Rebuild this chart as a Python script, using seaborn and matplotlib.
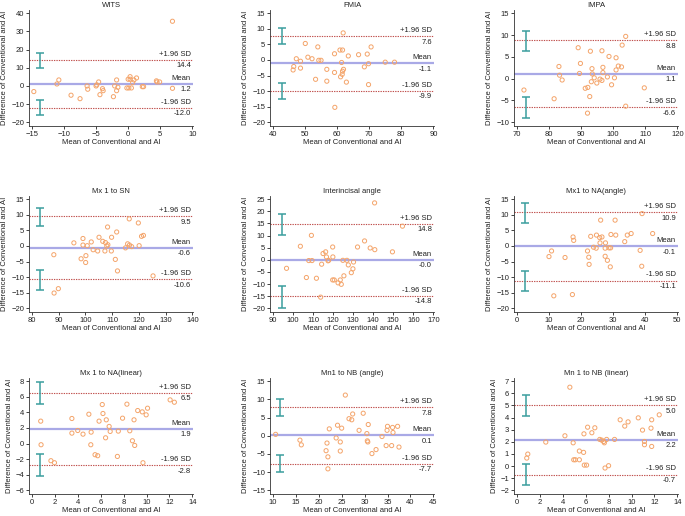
import numpy as np
import pandas as pd
import matplotlib
matplotlib.use("Agg")
import matplotlib.pyplot as plt
import seaborn as sns

# Bland-Altman data: mean of the two methods (x) and difference (y)
wits_x = [-14.7, -11.1, -10.8, -8.9, -7.5, -6.4, -6.3, -5.0, -4.9, -4.6, -4.4, -4.0, -3.9, -2.3, -2.1, -1.8, -1.8,
          -1.6, -0.2, 0.1, 0.0, 0.3, 0.3, 0.5, 0.7, 0.9, 1.3, 2.2, 2.4, 4.4, 4.5, 4.9, 6.9, 6.9]
wits_y = [-3.1, 1.1, 3.3, -5.1, -7.0, 0.0, -1.8, 0.0, 0.6, 2.2, -4.8, -1.5, -2.6, -5.9, 0.0, 3.3, -2.6,
          -0.7, -1.1, -1.1, 3.7, 5.1, 3.7, -1.1, 1.8, 3.3, 4.4, -0.4, -0.4, 2.8, 2.2, 2.2, 35.6, -1.3]

fmia_x = [46.3, 46.5, 47.3, 48.6, 48.6, 50.1, 50.9, 52.2, 53.3, 54.0, 54.3, 55.0, 56.8, 56.8, 59.2, 59.2, 59.3, 60.9,
          61.1, 61.4, 61.7, 61.7, 61.6, 61.9, 62.0, 62.9, 63.5, 66.7, 68.5, 69.4, 69.8, 69.8, 70.6, 75.0, 77.9]
fmia_y = [-3.2, -2.1, 0.4, -0.4, -2.6, 5.3, 0.9, 0.4, -6.2, 4.2, -0.1, -0.1, -3.0, -6.8, 2.0, -4.0, -15.2, 3.2,
          -5.4, -0.8, 3.2, -3.6, -4.6, 8.7, -3.0, -7.1, 1.3, 1.7, -2.2, 1.9, -1.2, -7.9, 4.2, -0.7, -0.7]

impa_x = [72.2, 81.6, 83.1, 83.3, 84.1, 89.1, 89.5, 89.8, 91.3, 92.1, 92.0, 92.7, 92.9, 93.2, 93.4, 93.5, 94.1, 94.9,
          95.9, 96.5, 96.5, 96.8, 96.8, 98.2, 98.7, 99.5, 100.4, 100.9, 100.9, 101.6, 102.6, 102.8, 103.9, 103.9, 109.7]
impa_y = [-2.6, -4.6, 2.8, 0.8, -0.3, 7.1, 1.2, 3.5, -2.2, -2.0, -7.9, -4.1, 6.3, -0.7, 2.3, 1.1, 0.2, -1.0,
          -0.1, -0.4, 6.4, 2.6, 1.4, 0.4, 5.1, -1.4, 0.2, 4.8, 2.0, 2.9, 2.7, 7.7, 9.7, -6.3, -2.1]

mx1sn_x = [88.2, 88.3, 89.9, 95.7, 98.4, 99.1, 99.1, 100.1, 100.2, 100.7, 102.2, 102.9, 104.6, 105.1, 106.5, 107.3,
           107.5, 108.0, 108.3, 108.4, 109.7, 109.8, 111.2, 111.7, 112.0, 115.0, 115.8, 116.4, 116.5, 117.3, 119.8,
           120.1, 121.0, 121.7, 125.3]
mx1sn_y = [-2.8, -15.1, -13.7, 1.0, -4.1, 2.4, 0.3, -5.3, -3.1, 0.1, 1.3, -1.2, -1.6, 2.8, 1.5, -1.6,
           1.1, 0.0, 6.1, 0.4, -1.6, 2.8, -4.3, 4.5, -8.0, -0.6, 0.7, 8.7, 0.3, -0.2, 7.4,
           0.1, 3.1, 3.4, -9.6]

inter_x = [96.8, 103.7, 106.7, 107.9, 109.2, 109.5, 111.7, 114.3, 113.8, 115.0, 116.3, 116.7, 117.5, 117.8, 119.8,
           119.9, 119.8, 120.6, 122.5, 123.6, 124.1, 124.9, 125.4, 126.9, 127.6, 129.1, 129.9, 130.2, 132.2, 135.7,
           138.5, 140.8, 140.7, 149.6, 154.6]
inter_y = [-3.5, 5.6, -7.3, -0.3, 10.1, -0.3, -7.6, -1.8, -15.4, 2.6, 3.3, 1.2, -0.4, -0.2, 5.3,
           1.2, -8.3, -8.3, -9.5, -8.3, -10.1, -0.2, -6.6, -0.2, -2.1, -5.3, -3.7, -0.9, 5.3, 7.8,
           4.9, 4.2, 23.5, 3.3, 13.9]

mx1na_ang_x = [10.0, 10.8, 11.5, 15.0, 17.3, 17.5, 17.7, 22.0, 22.4, 22.5, 23.0, 23.9, 24.7, 24.8, 25.8, 25.9, 26.1,
               26.5, 27.5, 27.6, 27.5, 28.2, 28.7, 29.2, 29.3, 29.1, 30.6, 30.8, 33.6, 34.4, 35.6, 38.4, 38.9, 39.0, 42.3]
mx1na_ang_y = [-3.4, -1.6, -16.0, -3.7, -15.6, 2.9, 1.8, -1.6, -3.6, -5.9, 3.1, -0.4, -0.7, 3.5, 2.7, 1.0, 8.3,
               2.9, -0.7, 1.0, -3.3, -4.6, -0.6, -0.6, 3.7, -6.7, 8.3, 3.5, 1.4, 3.5, 4.0, -1.4, -6.5, 10.4, 4.0]

mx1na_lin_x = [0.77, 0.80, 1.66, 1.97, 3.49, 3.49, 4.00, 4.46, 4.97, 5.14, 5.17, 5.51, 5.74, 5.86, 6.14, 6.20, 6.43,
               6.49, 6.74, 6.83, 7.46, 7.54, 7.91, 8.29, 8.54, 8.77, 8.91, 8.97, 9.23, 9.69, 9.63, 9.97, 10.09, 12.06, 12.43]
mx1na_lin_y = [2.88, -0.15, -2.20, -2.46, 3.22, 1.34, 1.68, 1.21, 3.77, -0.15, 1.47, -1.43, -1.56, 2.88, 5.01, 3.86, 0.74,
               3.05, 2.20, 1.56, -1.65, 1.60, 3.26, 5.06, 1.64, 0.36, 3.05, -0.24, 4.24, -2.46, 4.07, 3.69, 4.54, 5.61, 5.31]

mn1nb_ang_x = [10.6, 15.9, 16.2, 21.6, 21.8, 22.0, 22.0, 22.3, 23.8, 24.1, 24.7, 24.7, 25.0, 25.8, 26.6, 27.2, 27.4,
               28.8, 29.7, 30.5, 30.6, 30.7, 30.8, 31.6, 32.5, 33.8, 34.7, 34.9, 35.0, 35.9, 36.1, 36.2, 37.2, 37.5]
mn1nb_ang_y = [0.4, -1.2, -2.5, -4.1, -2.0, -5.8, -9.1, 1.9, -0.6, 2.9, -1.7, -4.2, 2.1, 11.2, 4.7, 4.4, 6.0,
               1.5, 6.2, 0.6, -1.4, -1.7, 3.1, -4.9, -3.8, -0.2, -2.7, 1.5, 2.6, -2.7, 2.3, 0.9, 2.6, -3.1]

mn1nb_lin_x = [0.86, 0.95, 2.52, 4.19, 4.62, 4.91, 4.96, 5.10, 5.45, 5.45, 5.82, 5.85, 5.88, 6.08, 6.17, 6.54, 6.80,
               7.23, 7.40, 7.57, 7.63, 7.69, 7.83, 8.00, 8.52, 9.01, 9.41, 9.70, 10.59, 10.96, 11.13, 11.13, 11.70,
               11.76, 11.76, 12.42]
mn1nb_lin_y = [0.66, 0.99, 1.98, 2.50, 6.51, 1.92, 0.52, 0.52, 1.24, 0.52, 1.13, 2.66, 0.08, 0.08, 3.21, 2.75, 3.16,
               2.20, 2.14, 2.03, 1.92, -0.16, 2.20, 0.03, 2.20, 3.82, 3.30, 3.65, 3.98, 2.97, 2.03, 1.76, 3.13,
               3.82, 1.62, 4.23]

titles = ["WITS", "FMIA", "IMPA", "Mx 1 to SN", "Interincisal angle", "Mx1 to NA(angle)",
          "Mx 1 to NA(linear)", "Mn1 to NB (angle)", "Mn 1 to NB (linear)"]
xs = [wits_x, fmia_x, impa_x, mx1sn_x, inter_x, mx1na_ang_x, mx1na_lin_x, mn1nb_ang_x, mn1nb_lin_x]
ys = [wits_y, fmia_y, impa_y, mx1sn_y, inter_y, mx1na_ang_y, mx1na_lin_y, mn1nb_ang_y, mn1nb_lin_y]

# limits of agreement: upper, mean, lower
upper_sd = [14.4, 7.6, 8.8, 9.5, 14.8, 10.9, 6.5, 7.8, 5.04]
mean_diff = [1.2, -1.1, 1.1, -0.6, -0.02, -0.1, 1.9, 0.1, 2.16]
lower_sd = [-12.0, -9.9, -6.6, -10.6, -14.8, -11.1, -2.8, -7.7, -0.7]

# 95% CI of the limits (low, high) and where the bars sit on x
ci_upper = [(10.1, 18.3), (5.1, 10.2), (6.4, 10.9), (6.3, 12.3), (10.1, 19.1), (7.3, 13.9), (5.1, 7.87), (5.4, 10.2), (4.17, 5.9)]
ci_lower = [(-16.1, -7.7), (-12.5, -7.3), (-9.0, -4.3), (-14.0, -7.8), (-19.7, -10.6), (-14.6, -7.9), (-4.2, -1.39), (-10.0, -5.4), (-1.59, 0.14)]
ci_xpos = [-13.75, 42.9, 72.7, 83.2, 94.3, 2.5, 0.71, 11.6, 0.77]

# axis ranges (min, max, step)
x_axes = [(-15, 10, 5), (40, 90, 10), (70, 120, 10), (80, 140, 10), (90, 170, 10), (0, 50, 10), (0, 14, 2), (10, 45, 5), (0, 14, 2)]
y_axes = [(-20, 40, 10), (-20, 15, 5), (-10, 15, 5), (-20, 15, 5), (-20, 25, 5), (-20, 15, 5), (-6, 8, 2), (-15, 15, 5), (-2, 7, 1)]

sns.set_theme(style="ticks")
plt.rcParams["font.family"] = ["Liberation Sans", "DejaVu Sans"]
fs = 5.5

W, H = 685, 516
fig = plt.figure(figsize=(W / 100, H / 100), dpi=100)
lefts = [29, 270, 514]
tops = [10, 196, 378]
aw, ah = 164, 116

for i in range(9):
    r, c = divmod(i, 3)
    ax = fig.add_axes([lefts[c] / W, 1 - (tops[r] + ah) / H, aw / W, ah / H])
    df = pd.DataFrame({"mean": xs[i], "diff": ys[i]})

    ax.axhline(mean_diff[i], color="#a9a9e6", lw=1.6, zorder=1)
    ax.axhline(upper_sd[i], color="#c0504d", lw=0.8, ls=(0, (1.2, 1.0)), zorder=1)
    ax.axhline(lower_sd[i], color="#c0504d", lw=0.8, ls=(0, (1.2, 1.0)), zorder=1)

    for lo, hi in [ci_upper[i], ci_lower[i]]:
        ax.errorbar([ci_xpos[i]], [(lo + hi) / 2], yerr=[[(hi - lo) / 2], [(hi - lo) / 2]],
                    fmt="none", ecolor="#3a9e9e", elinewidth=1.1, capsize=3, capthick=1.1, zorder=2)

    sns.scatterplot(data=df, x="mean", y="diff", ax=ax, marker="o", s=9,
                    facecolor="none", edgecolor="#f4a46a", linewidth=0.7, zorder=3)

    for val, top in [(upper_sd[i], "+1.96 SD"), (mean_diff[i], "Mean"), (lower_sd[i], "-1.96 SD")]:
        ax.annotate(top, xy=(1, val), xycoords=("axes fraction", "data"), xytext=(-1.5, 1.5),
                    textcoords="offset points", ha="right", va="bottom", fontsize=fs, color="#222222")
        ax.annotate(f"{val:.1f}", xy=(1, val), xycoords=("axes fraction", "data"), xytext=(-1.5, -1.8),
                    textcoords="offset points", ha="right", va="top", fontsize=fs, color="#222222")

    x0, x1, xs_ = x_axes[i]
    y0, y1, ys_ = y_axes[i]
    ax.set_xticks(np.arange(x0, x1 + xs_ / 2, xs_))
    ax.set_yticks(np.arange(y0, y1 + ys_ / 2, ys_))
    xr = x1 - x0
    yr = y1 - y0
    ax.set_xlim(x0 - 0.018 * xr, x1 + 0.004 * xr)
    ax.set_ylim(y0 - 0.034 * yr, y1 + 0.03 * yr)

    ax.set_title(titles[i], fontsize=fs, pad=2.5, color="#222222")
    ax.set_xlabel("Mean of Conventional and AI", fontsize=fs, labelpad=1, color="#222222")
    ax.set_ylabel("Difference of Conventional and AI", fontsize=fs, labelpad=2, color="#222222")
    ax.tick_params(labelsize=fs, length=2.5, width=0.6, pad=1, colors="#222222")
    for s in ["top", "right"]:
        ax.spines[s].set_visible(False)
    for s in ["left", "bottom"]:
        ax.spines[s].set_linewidth(0.6)
        ax.spines[s].set_color("#333333")

fig.savefig("out.png", dpi=100)
